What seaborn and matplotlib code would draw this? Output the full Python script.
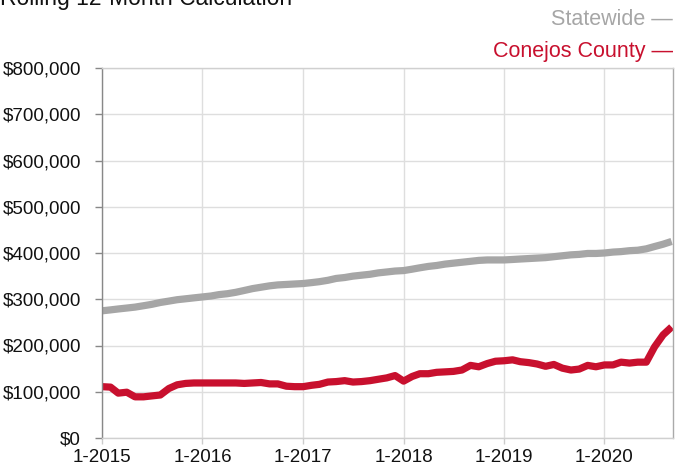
import pandas as pd
import matplotlib.pyplot as plt
import seaborn as sns

# monthly rolling 12-month values, 1-2015 .. 9-2020 (in dollars, thousands)
months = pd.date_range("2015-01-01", periods=69, freq="MS")

statewide = [275, 277, 279, 281, 283, 286, 289, 293, 296, 299, 301, 303,
             305, 307, 310, 312, 315, 319, 323, 326, 329, 331, 332, 333,
             334, 336, 338, 341, 345, 347, 350, 352, 354, 357, 359, 361,
             362, 365, 368, 371, 373, 376, 378, 380, 382, 384, 385, 385,
             385, 386, 387, 388, 389, 390, 392, 394, 396, 397, 399, 399,
             400, 402, 403, 405, 406, 409, 414, 419, 425]

conejos = [111, 110, 97, 99, 89, 89, 91, 93, 107, 115, 118, 119,
           119, 119, 119, 119, 119, 118, 119, 120, 117, 117, 112, 111,
           111, 114, 116, 121, 122, 124, 121, 122, 124, 127, 130, 135,
           123, 133, 139, 139, 142, 143, 144, 147, 157, 154, 161, 166,
           167, 169, 165, 163, 160, 155, 159, 151, 147, 149, 157, 154,
           158, 158, 164, 162, 164, 164, 197, 223, 240]

series_names = ["Statewide", "Conejos County"]
series_colors = ["#A6A6A6", "#C8102E"]
y_ticks = [0, 100000, 200000, 300000, 400000, 500000, 600000, 700000, 800000]
year_ticks = [2015, 2016, 2017, 2018, 2019, 2020]

df = pd.concat([
    pd.DataFrame({"month": months, "value": [v * 1000 for v in statewide], "area": series_names[0]}),
    pd.DataFrame({"month": months, "value": [v * 1000 for v in conejos], "area": series_names[1]}),
])

sns.set_theme(style="whitegrid")
plt.rcParams["font.family"] = ["Liberation Sans", "DejaVu Sans"]

fig = plt.figure(figsize=(6.76, 4.68), dpi=100)
ax = fig.add_axes([102 / 676, 30 / 468, 571 / 676, 370 / 468])

sns.lineplot(data=df, x="month", y="value", hue="area", palette=series_colors,
             linewidth=5.2, legend=False, ax=ax, solid_capstyle="butt")

ax.set_xlim(months[0], months[-1] + pd.Timedelta(days=5))
ax.set_ylim(0, 800000)
ax.set_yticks(y_ticks)
ax.set_yticklabels([f"${v:,.0f}" for v in y_ticks])
ax.set_xticks([pd.Timestamp(f"{y}-01-01") for y in year_ticks])
ax.set_xticklabels([f"1-{y}" for y in year_ticks])
ax.set_xlabel("")
ax.set_ylabel("")

ax.grid(True, color="#DEDEDE", linewidth=1)
ax.tick_params(axis="y", length=5, width=1, color="#888888", pad=10, labelsize=13.5, labelcolor="#111111", left=True)
ax.tick_params(axis="x", length=4, width=1, color="#CCCCCC", pad=4, labelsize=13.5, labelcolor="#111111", bottom=True)
for side in ["top", "right", "bottom"]:
    ax.spines[side].set_color("#D0D0D0")
    ax.spines[side].set_linewidth(1)
ax.spines["right"].set_color("#AAAAAA")
ax.spines["left"].set_color("#888888")
ax.spines["left"].set_linewidth(1)

# title sits partly above the canvas, as in the source chart
fig.text(0.0, 1 - 5 / 468, "Rolling 12-Month Calculation", fontsize=16.5,
         color="#111111", ha="left", va="baseline")
fig.text(673 / 676, 1 - 25 / 468, series_names[0] + " \u2014", fontsize=15.5,
         color=series_colors[0], ha="right", va="baseline")
fig.text(673 / 676, 1 - 57 / 468, series_names[1] + " \u2014", fontsize=15.5,
         color=series_colors[1], ha="right", va="baseline")

fig.savefig("out.png", dpi=100)
